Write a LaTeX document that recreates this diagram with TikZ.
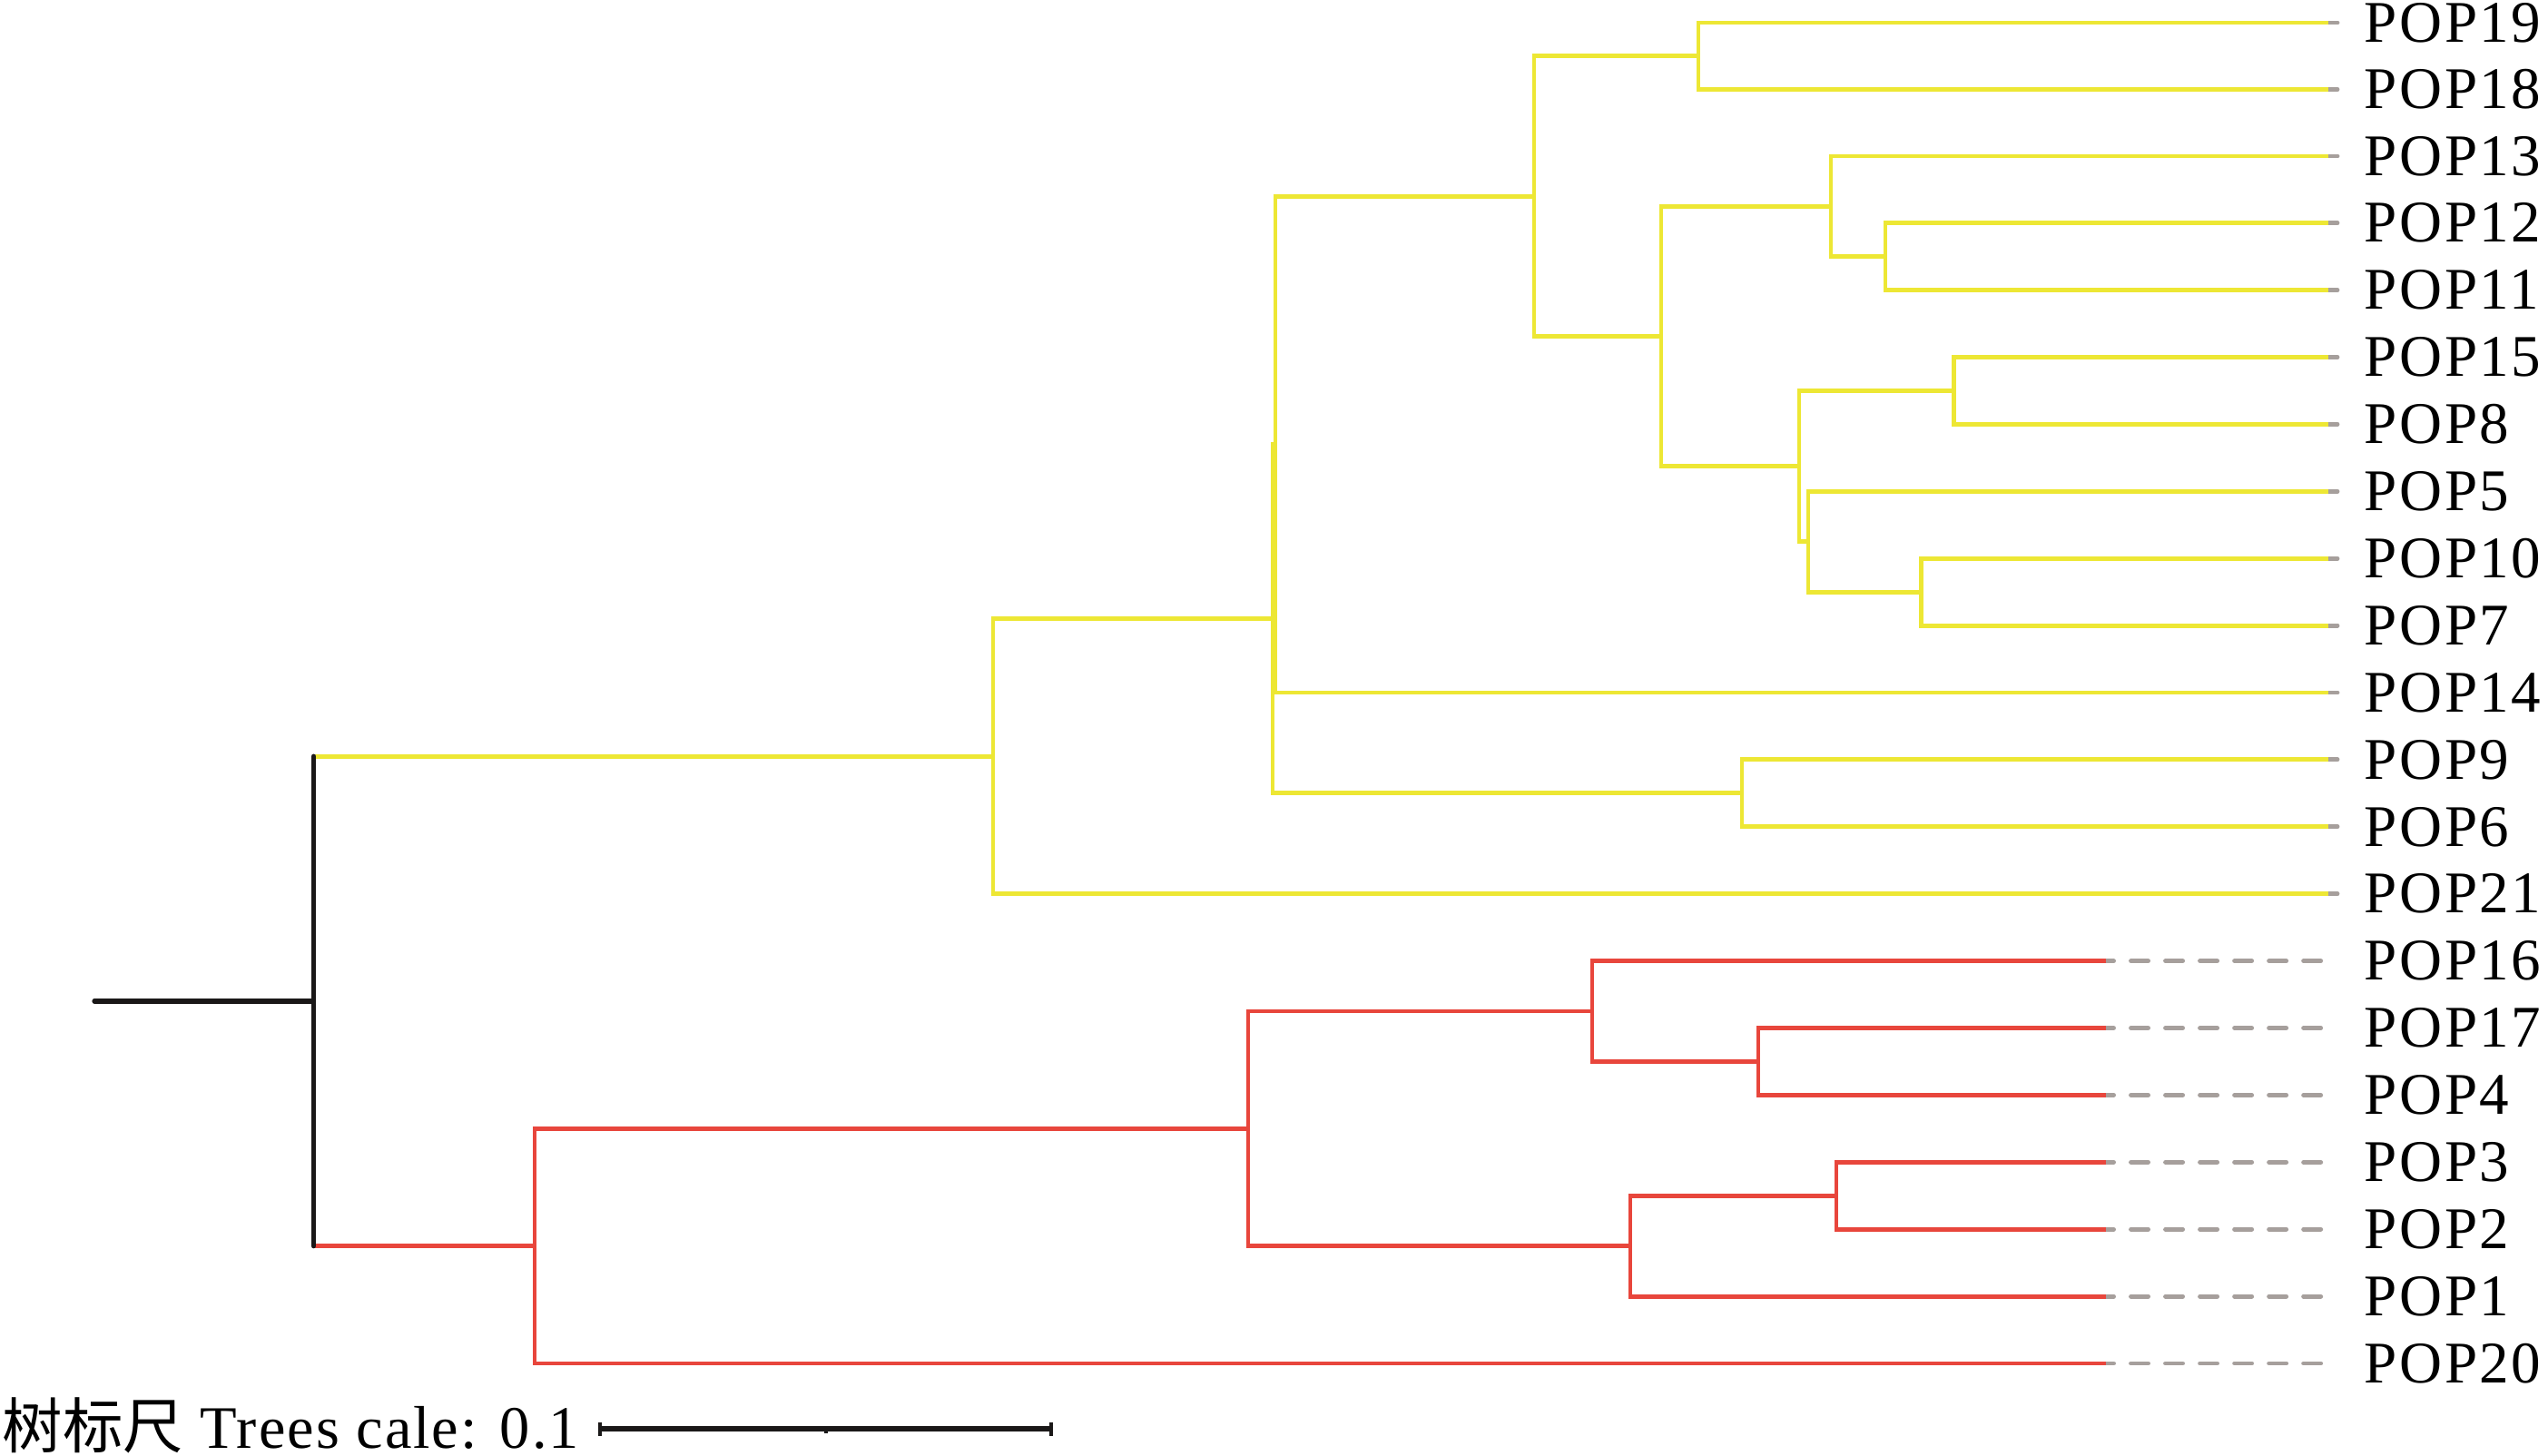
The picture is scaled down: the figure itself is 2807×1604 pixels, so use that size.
\documentclass[tikz,border=0pt]{standalone}
\usepackage{fontspec}
\setmainfont{Liberation Serif}
\newfontfamily\cjk{Noto Sans CJK SC}
\newfontfamily\lblfont[LetterSpace=4]{Liberation Serif}
\newfontfamily\scfont[LetterSpace=3]{Liberation Serif}
\usetikzlibrary{positioning}
\definecolor{treeyellow}{RGB}{237,231,52}
\definecolor{treered}{RGB}{232,70,60}
\definecolor{treegrey}{RGB}{166,159,156}
\definecolor{treeblack}{RGB}{26,24,24}

\begin{document}
\begin{tikzpicture}[x=0.01cm, y=-0.01cm]

  \tikzstyle{branch}=[line width=1.4pt]
  \tikzstyle{yb}=[branch, treeyellow]
  \tikzstyle{rb}=[branch, treered]
  \tikzstyle{kb}=[line width=1.5pt, treeblack, line cap=round]
  \tikzstyle{tip}=[line width=1.4pt, treegrey, line cap=round]
  \tikzstyle{tipdash}=[tip, dash pattern=on 0.19cm off 0.19cm, dash phase=0.105cm]
  \tikzstyle{taxon}=[anchor=west, inner sep=0pt, font=\fontsize{18.5}{22}\lblfont]
  \tikzstyle{scalebar}=[line width=1.7pt, treeblack]

  \useasboundingbox (0,0) rectangle (2807,1604);

  % tips
  \foreach \name/\y in {19/25, 18/98.5, 13/172, 12/245.7, 11/319.6, 15/393.5, 8/467.4,
                        5/541.3, 10/615.2, 7/689.1, 14/763, 9/836.9, 6/910.8, 21/984.7} {
    \coordinate (l\name) at (2565,\y);
    \node [taxon] (t\name) at (2604,\y) {POP\name};
    \draw [tip] (l\name) -- ([xshift=-0.29cm]t\name.west);
  }
  \foreach \name/\y in {16/1058.6, 17/1132.5, 4/1206.4, 3/1280.3, 2/1354.2, 1/1428.1, 20/1502} {
    \coordinate (l\name) at (2320,\y);
    \node [taxon] (t\name) at (2604,\y) {POP\name};
    \draw [tipdash] (l\name) -- ([xshift=-0.47cm]t\name.west);
  }

  % yellow clade
  \coordinate (a1) at (1871,61.75);
  \coordinate (a2) at (2077,282.65);
  \coordinate (a3) at (2017,227.3);
  \coordinate (a4) at (2152,430.45);
  \coordinate (a5) at (2116,652.15);
  \coordinate (a6) at (1992,596.7);
  \coordinate (a7) at (1982,513.6);
  \coordinate (a8) at (1830,370.45);
  \coordinate (a9) at (1690,216.1);
  \coordinate (a10) at (1405,489.55);
  \coordinate (a11) at (1919,873.85);
  \coordinate (a12) at (1402,681.7);
  \coordinate (a13) at (1094,833.2);

  \draw [yb] (l19) -| (a1) |- (l18);
  \draw [yb] (l12) -| (a2) |- (l11);
  \draw [yb] (l13) -| (a3) |- (a2);
  \draw [yb] (l15) -| (a4) |- (l8);
  \draw [yb] (l10) -| (a5) |- (l7);
  \draw [yb] (l5) -| (a6) |- (a5);
  \draw [yb] (a4) -| (a7) |- (a6);
  \draw [yb] (a3) -| (a8) |- (a7);
  \draw [yb] (a1) -| (a9) |- (a8);
  \draw [yb] (a9) -| (a10) |- (l14);
  \draw [yb] (l9) -| (a11) |- (l6);
  \draw [yb] (a10) -| (a12) |- (a11);
  \draw [yb] (a12) -| (a13) |- (l21);

  % red clade
  \coordinate (b1) at (1937,1169.45);
  \coordinate (b2) at (1754,1114);
  \coordinate (b3) at (2023,1317.25);
  \coordinate (b4) at (1796,1372.7);
  \coordinate (b5) at (1375,1243.35);
  \coordinate (b6) at (589,1372.7);

  \draw [rb] (l17) -| (b1) |- (l4);
  \draw [rb] (l16) -| (b2) |- (b1);
  \draw [rb] (l3) -| (b3) |- (l2);
  \draw [rb] (b3) -| (b4) |- (l1);
  \draw [rb] (b2) -| (b5) |- (b4);
  \draw [rb] (b5) -| (b6) |- (l20);

  % root
  \coordinate (root) at (345.5,1102.9);
  \coordinate (stub) at (104,1102.9);
  \draw [yb] (a13) -- (a13 -| root);
  \draw [rb] (b6) -- (b6 -| root);
  \draw [kb] (a13 -| root) -- (b6 -| root);
  \draw [kb] (stub) -- (root);

  % scale
  \node [anchor=base west, inner sep=0pt, font=\fontsize{18.9}{22}\scfont] (sclabel) at (2,1595)
    {{\cjk 树标尺} Trees cale: 0.1};
  \coordinate (sbl) at (661,1574);
  \coordinate (sbm) at (910,1574);
  \coordinate (sbr) at (1158,1574);
  \draw [scalebar] (sbl) -- (sbr);
  \draw [scalebar, line width=1.4pt] ([yshift=0.075cm]sbl) -- ([yshift=-0.075cm]sbl);
  \draw [scalebar, line width=1.4pt] ([yshift=0.075cm]sbr) -- ([yshift=-0.075cm]sbr);
  \draw [scalebar, line width=1pt] (sbm) -- ([yshift=-0.05cm]sbm);
\end{tikzpicture}
\end{document}
